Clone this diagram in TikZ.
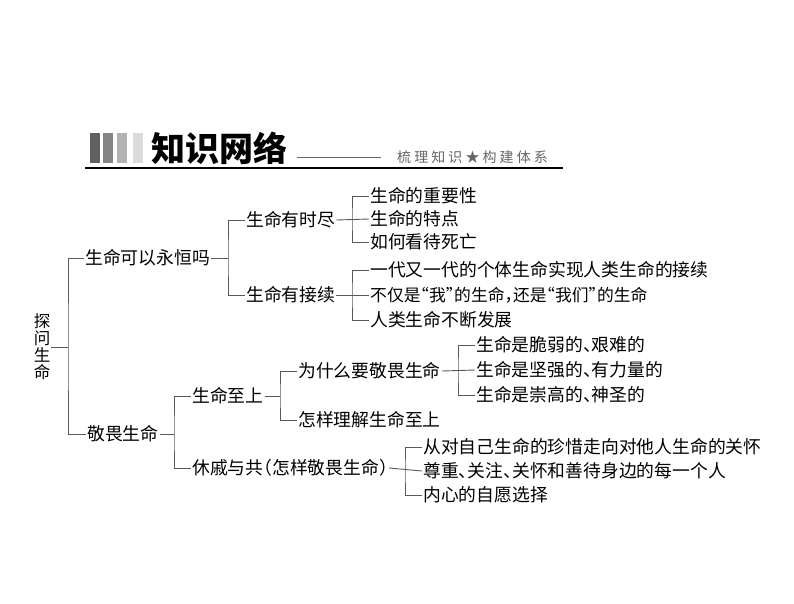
\documentclass[tikz,border=0pt]{standalone}
\usepackage{fontspec}
\setmainfont[RawFeature=+halt]{Noto Sans CJK SC}
\newfontfamily\mottofont[LetterSpace=22]{Noto Sans CJK SC}
\usetikzlibrary{calc}

\tikzset{
  item/.style={anchor=west,inner sep=1pt,font=\fontsize{17.8}{20}\selectfont},
  rootbox/.style={align=center,inner sep=1pt,font=\fontsize{16.5}{17}\selectfont},
  link/.style={draw=black!65,line width=0.9pt},
}

\begin{document}
\begin{tikzpicture}[x=1pt,y=-1pt]
          \useasboundingbox (0,0) rectangle (794,603);
          % header
          \fill[black!62] (90,133) rectangle (100,163);
          \fill[black!48] (103,133) rectangle (113,163);
          \fill[black!30] (117,133) rectangle (127,163);
          \fill[black!14] (133,133) rectangle (143,163);
          \node[anchor=west,inner sep=0pt,font=\fontsize{34}{34}\selectfont\bfseries] (title) at (151,148) {知识网络};
          \node[anchor=west,inner sep=0pt,text=black!60,font=\mottofont\fontsize{14}{14}\selectfont] (motto) at (397,157) {梳理知识★构建体系};
          \draw[black!60,line width=0.8pt] (297,157) -- (381,157);
          \draw[line width=1.5pt] (85,168) -- (563,168);

          % tree
          \node[rootbox] (root) at (42,347) {探\\问\\生\\命};
          \node[item] (q1) at (84,258) {生命可以永恒吗};
          \node[item] (q2) at (86,434) {敬畏生命};
          \coordinate (f0) at (68,347);
          \draw[link] (root.east) -- (f0);
          \draw[link] (q1.west) -| (f0) |- (q2.west);

          \node[item] (a1) at (245,220) {生命有时尽};
          \node[item] (a2) at (245,295) {生命有接续};
          \coordinate (f1) at (228,258);
          \draw[link] (q1.east) -- (f1);
          \draw[link] (a1.west) -| (f1) |- (a2.west);

          \node[item] (a11) at (369,196) {生命的重要性};
          \node[item] (a12) at (369,219) {生命的特点};
          \node[item] (a13) at (369,242) {如何看待死亡};
          \coordinate (f11) at (352,219);
          \draw[link] (a1.east) -- (a12.west);
          \draw[link] (a11.west) -| (f11) |- (a13.west);

          \node[item] (a21) at (369,270) {一代又一代的个体生命实现人类生命的接续};
          \node[item,font=\fontsize{16.8}{20}\selectfont] (a22) at (369,295) {不仅是“我”的生命，还是“我们”的生命};
          \node[item] (a23) at (369,320) {人类生命不断发展};
          \coordinate (f12) at (352,295);
          \draw[link] (a2.east) -- (a22.west);
          \draw[link] (a21.west) -| (f12) |- (a23.west);

          \node[item] (b1) at (191,396) {生命至上};
          \node[item] (b2) at (191,468) {休戚与共（怎样敬畏生命）};
          \coordinate (f2) at (174,434);
          \draw[link] (q2.east) -- (f2);
          \draw[link] (b1.west) -| (f2) |- (b2.west);

          \node[item] (c1) at (297,371) {为什么要敬畏生命};
          \node[item] (c2) at (297,420) {怎样理解生命至上};
          \coordinate (f21) at (280,396);
          \draw[link] (b1.east) -- (f21);
          \draw[link] (c1.west) -| (f21) |- (c2.west);

          \node[item] (d1) at (475,345) {生命是脆弱的、艰难的};
          \node[item] (d2) at (475,370) {生命是坚强的、有力量的};
          \node[item] (d3) at (475,395) {生命是崇高的、神圣的};
          \coordinate (f211) at (458,370);
          \draw[link] (c1.east) -- (d2.west);
          \draw[link] (d1.west) -| (f211) |- (d3.west);

          \node[item] (e1) at (422,447) {从对自己生命的珍惜走向对他人生命的关怀};
          \node[item] (e2) at (422,471) {尊重、关注、关怀和善待身边的每一个人};
          \node[item] (e3) at (422,495) {内心的自愿选择};
          \coordinate (f22) at (405,471);
          \draw[link] (b2.east) -- (e2.west);
          \draw[link] (e1.west) -| (f22) |- (e3.west);
        \end{tikzpicture}
\end{document}
